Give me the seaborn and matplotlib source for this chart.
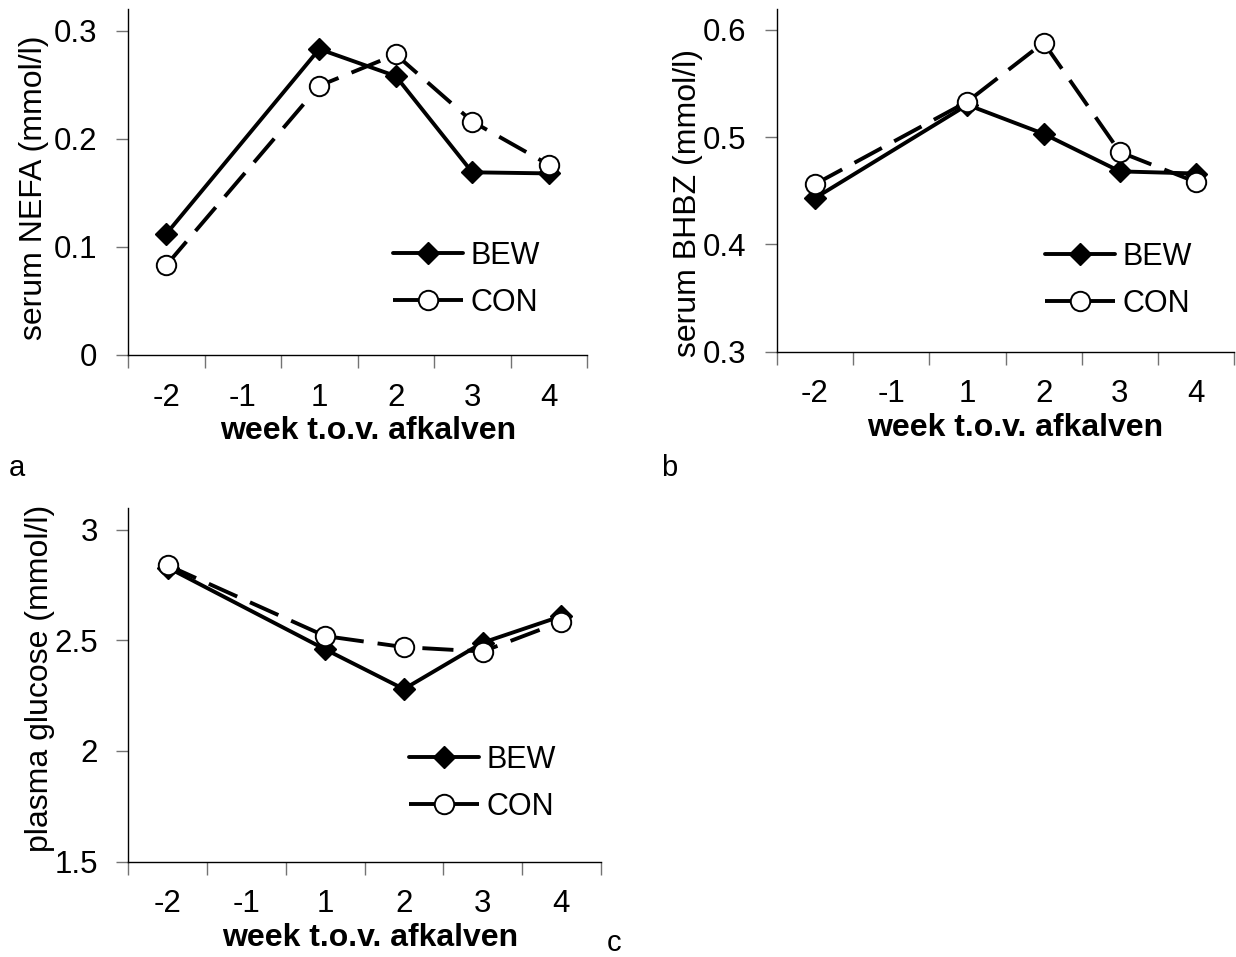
import matplotlib
matplotlib.use("Agg")
import matplotlib.pyplot as plt
import seaborn as sns
import pandas as pd

# ---- data ----
weeks_all = ["-2", "-1", "1", "2", "3", "4"]
weeks_measured = ["-2", "1", "2", "3", "4"]

nefa_bew = [0.112, 0.283, 0.258, 0.169, 0.168]
nefa_con = [0.083, 0.249, 0.278, 0.216, 0.176]

bhbz_bew = [0.443, 0.530, 0.503, 0.468, 0.466]
bhbz_con = [0.456, 0.533, 0.588, 0.486, 0.458]

gluc_bew = [2.83, 2.46, 2.28, 2.49, 2.61]
gluc_con = [2.84, 2.52, 2.47, 2.45, 2.585]

nefa_ticks = [0, 0.1, 0.2, 0.3]
nefa_ticklabels = ["0", "0.1", "0.2", "0.3"]
bhbz_ticks = [0.3, 0.4, 0.5, 0.6]
bhbz_ticklabels = ["0.3", "0.4", "0.5", "0.6"]
gluc_ticks = [1.5, 2.0, 2.5, 3.0]
gluc_ticklabels = ["1.5", "2", "2.5", "3"]

series_names = ["BEW", "CON"]
xlabel_text = "week t.o.v. afkalven"
ylabels = ["serum NEFA (mmol/l)", "serum BHBZ (mmol/l)", "plasma glucose (mmol/l)"]
panel_letters = ["a", "b", "c"]

# ---- style ----
sns.set_style("white")
plt.rcParams["font.family"] = ["Liberation Sans", "DejaVu Sans"]
plt.rcParams["text.color"] = "black"
plt.rcParams["axes.labelcolor"] = "black"
plt.rcParams["xtick.color"] = "black"
plt.rcParams["ytick.color"] = "black"

W, H = 1236, 957
fig = plt.figure(figsize=(W / 100, H / 100), dpi=100)


def axes_px(left, top, right, bottom):
    return fig.add_axes([left / W, 1 - bottom / H, (right - left) / W, (bottom - top) / H])


def make_df(values):
    pos = [weeks_all.index(w) + 0.5 for w in weeks_measured]
    return pd.DataFrame({"pos": pos, "value": values})


def draw_panel(ax, bew, con, ylim, ticks, ticklabels, ylabel, ylab_xy, leg_xy):
    sns.lineplot(data=make_df(bew), x="pos", y="value", ax=ax, color="black",
                 marker="D", markersize=11.5, markerfacecolor="black",
                 markeredgecolor="black", markeredgewidth=1.0, linewidth=2.8,
                 errorbar=None, label=series_names[0])
    sns.lineplot(data=make_df(con), x="pos", y="value", ax=ax, color="black",
                 marker="o", markersize=14, markerfacecolor="white",
                 markeredgecolor="black", markeredgewidth=1.4, linewidth=2.8,
                 linestyle=(0, (8, 3.6)), errorbar=None, label=series_names[1])
    ax.set_xlim(0, len(weeks_all))
    ax.set_ylim(*ylim)
    ax.set_xticks(range(len(weeks_all) + 1))
    ax.set_xticklabels([])
    ax.set_xticks([i + 0.5 for i in range(len(weeks_all))], minor=True)
    ax.set_xticklabels(weeks_all, minor=True, fontsize=22.5)
    ax.tick_params(axis="x", which="major", bottom=True, length=9, width=1,
                   color="0.45", direction="out")
    ax.tick_params(axis="x", which="minor", bottom=True, length=0, pad=20,
                   labelcolor="black")
    ax.set_yticks(ticks)
    ax.set_yticklabels(ticklabels, fontsize=22.5)
    ax.tick_params(axis="y", left=True, length=9, width=1, color="0.45",
                   direction="out", pad=13, labelcolor="black")
    for s in ["top", "right"]:
        ax.spines[s].set_visible(False)
    for s in ["left", "bottom"]:
        ax.spines[s].set_color("black")
        ax.spines[s].set_linewidth(1.0)
    ax.set_xlabel("")
    ax.set_ylabel(ylabel, fontsize=23, color="black")
    ax.yaxis.set_label_coords(*ylab_xy)
    ax.legend(loc="upper left", bbox_to_anchor=(leg_xy[0] / W, 1 - leg_xy[1] / H),
              bbox_transform=fig.transFigure, frameon=False, fontsize=22,
              handlelength=2.3, handletextpad=0.25, labelspacing=0.55,
              borderpad=0, borderaxespad=0, numpoints=1)


ax_a = axes_px(128, 9.3, 587, 355)
ax_b = axes_px(776.7, 9.3, 1234.3, 351.7)
ax_c = axes_px(128.3, 508.3, 600.7, 861.5)

draw_panel(ax_a, nefa_bew, nefa_con, (0, 0.3198), nefa_ticks, nefa_ticklabels,
           ylabels[0], (-0.172, 0.4845), (393, 241))
draw_panel(ax_b, bhbz_bew, bhbz_con, (0.3, 0.619), bhbz_ticks, bhbz_ticklabels,
           ylabels[1], (-0.16, 0.434), (1045, 242))
draw_panel(ax_c, gluc_bew, gluc_con, (1.5, 3.098), gluc_ticks, gluc_ticklabels,
           ylabels[2], (-0.155, 0.518), (409, 745))

# x-labels (centered below each panel)
for cx, cy in [(368, 431), (1015, 428), (370, 938)]:
    fig.text(cx / W, 1 - cy / H, xlabel_text, fontsize=23, fontweight="bold",
             ha="center", va="center", color="black")

# panel letters
for letter, (x, y) in zip(panel_letters, [(9, 476), (661, 476), (607, 951)]):
    fig.text(x / W, 1 - y / H, letter, fontsize=21, ha="left", va="baseline",
             color="black")

fig.savefig("out.png", dpi=100)
